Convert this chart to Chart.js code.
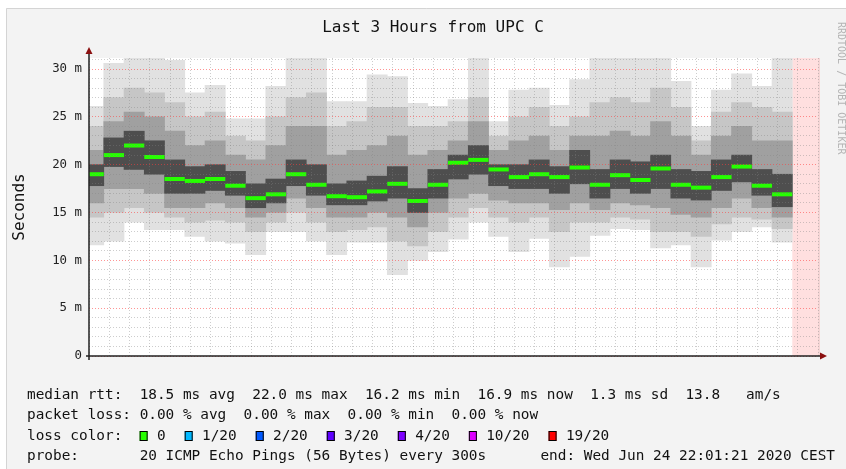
<!DOCTYPE html>
<html>
<head>
<meta charset="utf-8">
<script src="https://cdn.jsdelivr.net/npm/chart.js@4.4.1/dist/chart.umd.min.js"></script>
<style>
  body { margin: 0; background: #fff; }
  #wrap { width: 846px; height: 469px; }
</style>
</head>
<body>
<div id="wrap"><canvas id="smokeChart" width="846" height="469"></canvas></div>
<script>
// time window of the graph
const graphStart = '19:01:21';
const graphEnd = '22:01:21';
const unknownFrom = '21:55';

// end of every 5 minute slot (first one is cut by the graph start)
const slotEnds = ['19:05', '19:10', '19:15', '19:20', '19:25', '19:30', '19:35', '19:40', '19:45', '19:50', '19:55',
  '20:00', '20:05', '20:10', '20:15', '20:20', '20:25', '20:30', '20:35', '20:40', '20:45', '20:50', '20:55',
  '21:00', '21:05', '21:10', '21:15', '21:20', '21:25', '21:30', '21:35', '21:40', '21:45', '21:50', '21:55'];

// median rtt in ms
const medianRtt = [19.0, 21.0, 22.0, 20.8, 18.5, 18.3, 18.5, 17.8, 16.5, 16.9, 19.0, 17.9, 16.7, 16.6, 17.2, 18.0, 16.2, 17.9,
  20.2, 20.5, 19.5, 18.7, 19.0, 18.7, 19.7, 17.9, 18.9, 18.4, 19.6, 17.9, 17.6, 18.7, 19.8, 17.8, 16.9];

// smoke: spread of the 20 pings (ms), outer to inner
const pingMax = [26.1, 30.6, 31.3, 31.3, 30.9, 27.5, 28.3, 24.8, 24.8, 28.2, 31.3, 31.3, 26.6, 26.6, 29.4, 29.2, 26.4, 26.1,
  26.8, 31.3, 24.5, 27.8, 28.0, 26.2, 28.9, 31.3, 31.3, 31.3, 31.3, 28.7, 24.0, 27.8, 29.5, 28.2, 31.3];
const pingMin = [11.6, 12.0, 14.0, 13.2, 13.2, 12.5, 12.0, 11.8, 10.6, 13.0, 13.0, 12.0, 10.6, 11.9, 11.9, 8.5, 10.0, 10.9,
  12.2, 14.0, 12.5, 10.9, 12.3, 9.3, 10.4, 12.6, 13.3, 13.2, 11.3, 11.6, 9.3, 12.1, 13.0, 13.5, 11.9];
const highOuter = [24.0, 27.0, 28.0, 27.5, 26.5, 25.0, 25.5, 23.0, 22.5, 25.0, 27.0, 27.5, 24.0, 24.5, 26.0, 26.0, 24.0, 24.0,
  24.5, 27.0, 23.0, 25.0, 26.0, 24.0, 25.0, 26.5, 27.0, 26.5, 28.0, 26.0, 22.5, 25.5, 26.5, 26.0, 25.5];
const lowOuter = [14.5, 15.0, 15.5, 15.0, 14.5, 14.0, 14.2, 14.0, 13.0, 14.0, 15.0, 14.0, 13.0, 13.2, 13.5, 12.0, 11.5, 13.0,
  14.5, 15.5, 14.5, 14.0, 14.5, 13.0, 14.0, 14.0, 14.5, 14.3, 13.0, 13.0, 12.5, 13.8, 14.5, 14.3, 13.3];
const highMid = [21.5, 24.5, 25.5, 25.0, 23.5, 22.0, 22.5, 21.0, 20.5, 22.0, 24.0, 24.0, 21.0, 21.5, 22.0, 23.0, 21.0, 21.5,
  22.5, 24.5, 21.5, 22.5, 23.0, 21.5, 23.0, 23.0, 23.5, 23.0, 24.5, 23.0, 21.0, 23.0, 24.0, 22.5, 22.5];
const lowMid = [16.0, 17.5, 17.5, 17.0, 15.5, 15.5, 16.0, 15.5, 14.5, 15.0, 16.5, 15.5, 14.5, 14.5, 15.0, 14.5, 13.5, 15.0,
  16.5, 17.0, 16.3, 16.0, 16.0, 15.3, 16.0, 15.3, 16.0, 15.8, 15.5, 14.8, 14.5, 15.5, 16.5, 15.5, 14.5];
const highInner = [20.0, 22.8, 23.5, 22.5, 20.5, 19.8, 20.0, 19.3, 18.0, 18.5, 20.5, 20.0, 18.0, 18.3, 18.8, 19.8, 17.5, 19.5,
  21.0, 22.0, 20.0, 20.0, 20.5, 19.8, 21.5, 19.5, 20.5, 20.3, 21.0, 19.5, 19.3, 20.5, 21.0, 19.5, 19.0];
const lowInner = [17.8, 19.8, 19.5, 19.0, 17.0, 17.0, 17.3, 16.8, 15.5, 16.0, 17.8, 16.8, 15.8, 15.8, 16.2, 16.5, 15.0, 16.5,
  18.5, 19.0, 17.8, 17.5, 17.5, 17.0, 18.0, 16.5, 17.5, 17.0, 17.5, 16.5, 16.3, 17.3, 18.2, 16.8, 15.6];

// texts
const titleText = 'Last 3 Hours from UPC C';
const unitText = 'Seconds';
const watermarkText = 'RRDTOOL / TOBI OETIKER';
const statsLines = [
  'median rtt:  18.5 ms avg  22.0 ms max  16.2 ms min  16.9 ms now  1.3 ms sd  13.8   am/s',
  'packet loss: 0.00 % avg  0.00 % max  0.00 % min  0.00 % now',
  'loss color:',
  'probe:       20 ICMP Echo Pings (56 Bytes) every 300s'
];
const endText = 'end: Wed Jun 24 22:01:21 2020 CEST';
const lossLabels = ['0', '1/20', '2/20', '3/20', '4/20', '10/20', '19/20'];
const lossColors = ['#26ff00', '#00b8ff', '#0059ff', '#5e00ff', '#7e00ff', '#dd00ff', '#ff0000'];

const toMinutes = (s) => {
  const p = s.split(':').map(Number);
  return p[0] * 60 + p[1] + (p[2] || 0) / 60;
};
const hhmm = (m) => {
  const h = Math.floor(m / 60);
  const mm = Math.round(m % 60);
  return h + ':' + (mm < 10 ? '0' : '') + mm;
};

const slotCenters = slotEnds.map(t => toMinutes(t) - 2.5);

const band = (lo, hi) => slotCenters.map((x, i) => ({ x: x, y: [lo[i], hi[i]] }));

const bandSets = [
  { lo: pingMin, hi: pingMax, color: '#e1e1e1' },
  { lo: lowOuter, hi: highOuter, color: '#c6c6c6' },
  { lo: lowMid, hi: highMid, color: '#a0a0a0' },
  { lo: lowInner, hi: highInner, color: '#4e4e4e' }
];

const datasets = [];
datasets.push({
  type: 'line',
  data: slotCenters.map((x, i) => ({ x: x, y: medianRtt[i] })),
  showLine: false,
  pointStyle: 'line',
  pointRadius: ctx => {
    const xs = ctx.chart.scales.x;
    return (xs.getPixelForValue(5) - xs.getPixelForValue(0)) / 2;
  },
  pointBorderWidth: 4,
  pointBorderColor: '#26ff00',
  clip: 0,
  order: 0
});
bandSets.forEach((b, k) => {
  datasets.push({
    type: 'bar',
    data: band(b.lo, b.hi),
    backgroundColor: b.color,
    borderWidth: 0,
    grouped: false,
    barPercentage: 1,
    categoryPercentage: 1,
    order: 4 - k
  });
});

const monoFont = '"DejaVu Sans Mono", "Liberation Mono", monospace';
const majorGrid = 'rgba(255, 60, 60, 0.55)';
const minorGrid = 'rgba(130, 130, 130, 0.4)';

const smokeDecor = {
  id: 'smokeDecor',
  beforeDraw(chart) {
    const ctx = chart.ctx;
    const a = chart.chartArea;
    ctx.save();
    ctx.fillStyle = '#ffffff';
    ctx.fillRect(0, 0, chart.width, chart.height);
    ctx.fillStyle = '#f3f3f3';
    ctx.fillRect(6, 8, chart.width - 6, chart.height - 8);
    ctx.strokeStyle = '#d4d4d4';
    ctx.lineWidth = 1;
    ctx.beginPath();
    ctx.moveTo(6.5, chart.height);
    ctx.lineTo(6.5, 8.5);
    ctx.lineTo(chart.width, 8.5);
    ctx.stroke();
    ctx.fillStyle = '#ffffff';
    ctx.fillRect(a.left, a.top, a.right - a.left, a.bottom - a.top);
    ctx.restore();
  },
  beforeDatasetsDraw(chart) {
    const ctx = chart.ctx;
    const a = chart.chartArea;
    const xs = chart.scales.x;
    const x0 = xs.getPixelForValue(toMinutes(unknownFrom));
    ctx.save();
    ctx.fillStyle = 'rgba(255, 150, 150, 0.3)';
    ctx.fillRect(x0, a.top, a.right + 2 - x0, a.bottom - a.top);
    ctx.restore();
  },
  afterDraw(chart) {
    const ctx = chart.ctx;
    const a = chart.chartArea;
    ctx.save();

    // axis lines with arrows
    ctx.strokeStyle = '#222';
    ctx.lineWidth = 1.5;
    ctx.beginPath();
    ctx.moveTo(a.left - 3, a.bottom);
    ctx.lineTo(821, a.bottom);
    ctx.moveTo(a.left, a.bottom + 4);
    ctx.lineTo(a.left, 54);
    ctx.stroke();
    ctx.fillStyle = '#8b1010';
    ctx.beginPath();
    ctx.moveTo(a.left - 3.5, 54);
    ctx.lineTo(a.left + 3.5, 54);
    ctx.lineTo(a.left, 47);
    ctx.closePath();
    ctx.fill();
    ctx.beginPath();
    ctx.moveTo(820, a.bottom - 3.5);
    ctx.lineTo(820, a.bottom + 3.5);
    ctx.lineTo(827, a.bottom);
    ctx.closePath();
    ctx.fill();

    // title
    ctx.fillStyle = '#111';
    ctx.textAlign = 'center';
    ctx.textBaseline = 'middle';
    ctx.font = '16px ' + monoFont;
    ctx.fillText(titleText, 433, 28);

    // unit label
    ctx.save();
    ctx.translate(20, 207);
    ctx.rotate(-Math.PI / 2);
    ctx.fillText(unitText, 0, 0);
    ctx.restore();

    // watermark
    ctx.save();
    ctx.translate(841, 22);
    ctx.rotate(Math.PI / 2);
    ctx.textAlign = 'left';
    ctx.font = '10px ' + monoFont;
    ctx.fillStyle = '#b4b4b4';
    ctx.fillText(watermarkText, 0, 0);
    ctx.restore();

    // legend lines
    ctx.font = '14.4px ' + monoFont;
    ctx.textAlign = 'left';
    const cw = ctx.measureText('0').width;
    const lineY = [395, 415, 436, 456];
    statsLines.forEach((txt, i) => ctx.fillText(txt, 27, lineY[i]));

    // loss colour boxes
    let x = 27 + 13 * cw;
    lossLabels.forEach((lab, i) => {
      ctx.fillStyle = lossColors[i];
      ctx.fillRect(x, lineY[2] - 5, 8, 10);
      ctx.strokeStyle = '#000';
      ctx.lineWidth = 1;
      ctx.strokeRect(x + 0.5, lineY[2] - 4.5, 7, 9);
      ctx.fillStyle = '#111';
      ctx.fillText(lab, x + 2 * cw, lineY[2]);
      x += (lab.length + 4.2) * cw;
    });

    ctx.textAlign = 'right';
    ctx.fillText(endText, 835, lineY[3]);
    ctx.restore();
  }
};

new Chart(document.getElementById('smokeChart'), {
  type: 'bar',
  data: { datasets: datasets },
  options: {
    responsive: false,
    animation: false,
    devicePixelRatio: 1,
    layout: { padding: { top: 58, right: 28, bottom: 0, left: 0 } },
    plugins: { legend: { display: false }, tooltip: { enabled: false }, title: { display: false } },
    scales: {
      x: {
        type: 'linear',
        min: toMinutes(graphStart),
        max: toMinutes(graphEnd),
        offset: false,
        grid: {
          offset: false,
          drawTicks: false,
          z: 1,
          lineWidth: 1,
          color: c => (c.tick && Math.round(c.tick.value) % 20 === 0 ? majorGrid : minorGrid)
        },
        border: { display: false, dash: [1, 2] },
        ticks: {
          stepSize: 5,
          includeBounds: false,
          autoSkip: false,
          maxTicksLimit: 200,
          maxRotation: 0,
          minRotation: 0,
          padding: 6,
          color: '#222',
          font: { family: monoFont, size: 12.4 },
          callback: v => (Math.round(v) % 20 === 0 ? hhmm(v) : '')
        },
        afterFit: s => { s.height = 113; }
      },
      y: {
        min: 0,
        max: 31.15,
        grid: {
          drawTicks: false,
          z: 1,
          lineWidth: 1,
          color: c => (c.tick && Math.round(c.tick.value) % 5 === 0 ? majorGrid : minorGrid)
        },
        border: { display: false, dash: [1, 2] },
        ticks: {
          stepSize: 1,
          includeBounds: false,
          autoSkip: false,
          maxTicksLimit: 200,
          padding: 7,
          color: '#222',
          font: { family: monoFont, size: 12.4 },
          callback: v => (v % 5 === 0 ? (v === 0 ? '0' : v + ' m') : '')
        },
        afterFit: s => { s.width = 89; }
      }
    }
  },
  plugins: [smokeDecor]
});
</script>
</body>
</html>
